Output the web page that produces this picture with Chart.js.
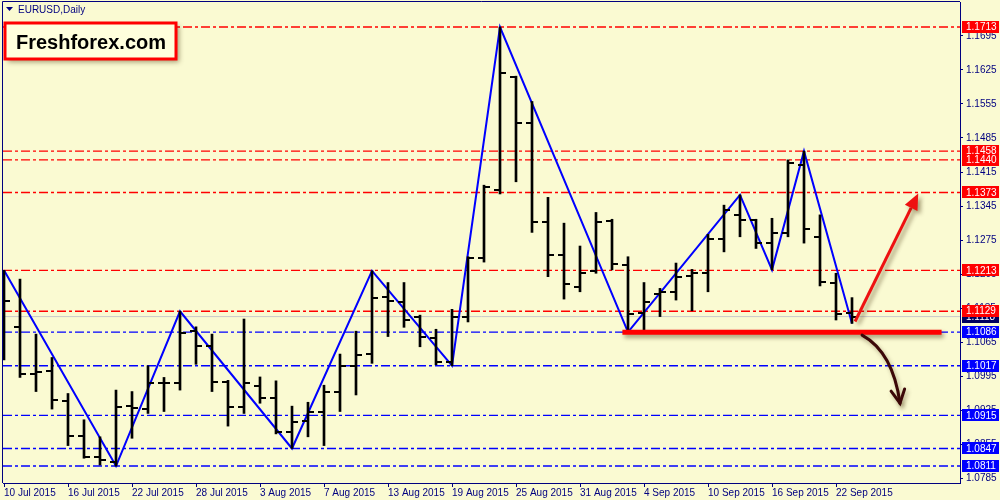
<!DOCTYPE html>
<html>
<head>
<meta charset="utf-8">
<title>EURUSD Daily</title>
<script src="https://cdn.jsdelivr.net/npm/chart.js@4.4.1/dist/chart.umd.min.js"></script>
<style>
  html, body { margin: 0; padding: 0; background: #fafad2; }
  #wrap { width: 1000px; height: 500px; }
</style>
</head>
<body>
<div id="wrap"><canvas id="chart" width="1000" height="500"></canvas></div>
<script>
// tick labels on the time axis, one every 4 bars
const dateLabels = ['10 Jul 2015', '16 Jul 2015', '22 Jul 2015', '28 Jul 2015', '3 Aug 2015', '7 Aug 2015',
  '13 Aug 2015', '19 Aug 2015', '25 Aug 2015', '31 Aug 2015', '4 Sep 2015', '10 Sep 2015', '16 Sep 2015', '22 Sep 2015'];
const labelEvery = 4;

// daily OHLC, 10 Jul .. 23 Sep 2015
const opens = [1.1173, 1.1097, 1.1000, 1.1007, 1.0945, 1.0873, 1.0830, 1.0820, 1.0935, 1.0928,
  1.0982, 1.0981, 1.1089, 1.1058, 1.0984, 1.0933, 1.0975, 1.0950, 1.0881, 1.0904,
  1.0923, 1.0964, 1.1017, 1.1041, 1.1158, 1.1149, 1.1118, 1.1075, 1.1025, 1.1118,
  1.1238, 1.1378, 1.1610, 1.1516, 1.1313, 1.1245, 1.1179, 1.1212, 1.1315, 1.1224,
  1.1125, 1.1164, 1.1169, 1.1201, 1.1208, 1.1277, 1.1327, 1.1316, 1.1269, 1.1290,
  1.1430, 1.1282, 1.1188, 1.1125];
const highs = [1.1213, 1.1195, 1.1082, 1.1034, 1.0960, 1.0906, 1.0871, 1.0967, 1.0964, 1.1017,
  1.0993, 1.1129, 1.1097, 1.1082, 1.0987, 1.1113, 1.0994, 1.0986, 1.0934, 1.0942,
  1.0977, 1.1041, 1.1088, 1.1212, 1.1188, 1.1188, 1.1121, 1.1092, 1.1133, 1.1241,
  1.1388, 1.1713, 1.1612, 1.1560, 1.1363, 1.1310, 1.1263, 1.1332, 1.1318, 1.1241,
  1.1188, 1.1176, 1.1228, 1.1215, 1.1287, 1.1347, 1.1368, 1.1318, 1.1320, 1.1440,
  1.1458, 1.1327, 1.1207, 1.1157];
const lows = [1.1029, 1.0993, 1.0964, 1.0928, 1.0853, 1.0827, 1.0813, 1.0811, 1.0868, 1.0919,
  1.0923, 1.0967, 1.1020, 1.0964, 1.0893, 1.0919, 1.0940, 1.0877, 1.0847, 1.0871,
  1.0853, 1.0923, 1.0957, 1.1022, 1.1077, 1.1096, 1.1056, 1.1019, 1.1017, 1.1107,
  1.1230, 1.1370, 1.1395, 1.1291, 1.1200, 1.1154, 1.1169, 1.1207, 1.1214, 1.1086,
  1.1090, 1.1118, 1.1152, 1.1130, 1.1169, 1.1251, 1.1282, 1.1258, 1.1214, 1.1282,
  1.1269, 1.1181, 1.1111, 1.1104];
const closes = [1.1151, 1.1000, 1.1005, 1.0947, 1.0873, 1.0830, 1.0823, 1.0933, 1.0930, 1.0982,
  1.0982, 1.1085, 1.1058, 1.0984, 1.0933, 1.0982, 1.0950, 1.0881, 1.0902, 1.0923,
  1.0964, 1.1017, 1.1039, 1.1157, 1.1150, 1.1111, 1.1077, 1.1025, 1.1118, 1.1238,
  1.1385, 1.1618, 1.1516, 1.1313, 1.1245, 1.1185, 1.1207, 1.1313, 1.1226, 1.1123,
  1.1149, 1.1169, 1.1200, 1.1207, 1.1277, 1.1336, 1.1316, 1.1269, 1.1290, 1.1434,
  1.1297, 1.1190, 1.1123, 1.1118];

// zigzag turning bars, starting on a high and alternating
const zigzagBars = [0, 7, 11, 18, 23, 28, 31, 39, 46, 48, 50, 53];

// horizontal levels
const redLevels = [1.1713, 1.1458, 1.1440, 1.1373, 1.1213, 1.1129];
const blueLevels = [1.1086, 1.1017, 1.0915, 1.0847, 1.0811];
const bidPrice = 1.1118;

// price axis ticks
const yTicks = [1.0785, 1.0855, 1.0925, 1.0995, 1.1065, 1.1135, 1.1205, 1.1275, 1.1345, 1.1415, 1.1485, 1.1555, 1.1625, 1.1695];

// drawings (bar index, price)
const supportLine = [[38.65, 1.1086], [58.6, 1.1086]];
const upArrow = [[53.19, 1.1108], [57.14, 1.1371]];
const downArrow = [[53.63, 1.1080], [55.56, 1.1045], [56.0, 1.0940]];

const bgColor = '#fafad2';
const navy = '#000080';
const axisFont = { family: "'Liberation Sans', Arial, sans-serif", size: 10 };

// little canvases for the open (left) and close (right) ticks
function tickImage(side) {
  const c = document.createElement('canvas');
  c.width = 12;
  c.height = 2;
  const g = c.getContext('2d');
  g.fillStyle = '#000';
  g.fillRect(side === 'left' ? 0 : 6, 0, 6, 2);
  return c;
}

const xMin = -0.0625, xMax = 59.75;

function levelSet(levels, color) {
  return levels.map(v => ({
    type: 'line',
    data: [{ x: xMin, y: v }, { x: xMax, y: v }],
    borderColor: color,
    borderWidth: 1.4,
    borderDash: [9, 3, 3, 3],
    pointRadius: 0,
    order: 20
  }));
}

const datasets = [
  {
    type: 'bar',
    data: highs.map((h, i) => ({ x: i, y: [lows[i], h] })),
    backgroundColor: '#000',
    borderWidth: 0,
    barThickness: 2,
    grouped: false,
    order: 2
  },
  {
    type: 'line',
    data: opens.map((v, i) => ({ x: i, y: v })),
    showLine: false,
    pointStyle: tickImage('left'),
    pointRadius: 3,
    order: 2
  },
  {
    type: 'line',
    data: closes.map((v, i) => ({ x: i, y: v })),
    showLine: false,
    pointStyle: tickImage('right'),
    pointRadius: 3,
    order: 2
  },
  {
    type: 'line',
    data: zigzagBars.map((b, k) => ({ x: b, y: k % 2 === 0 ? highs[b] : lows[b] })),
    borderColor: '#0000ff',
    borderWidth: 2,
    pointRadius: 0,
    tension: 0,
    order: 5
  },
  {
    type: 'line',
    data: supportLine.map(p => ({ x: p[0], y: p[1] })),
    borderColor: '#ff0000',
    borderWidth: 5,
    pointRadius: 0,
    shadow: true,
    order: 1
  },
  {
    type: 'line',
    data: [{ x: xMin, y: bidPrice }, { x: xMax, y: bidPrice }],
    borderColor: '#c8c8c8',
    borderWidth: 1,
    pointRadius: 0,
    order: 21
  },
  ...levelSet(redLevels, '#ff0000'),
  ...levelSet(blueLevels, '#0000ff')
];

const overlay = {
  id: 'overlay',
  beforeDraw(chart) {
    const ctx = chart.ctx;
    ctx.save();
    ctx.fillStyle = bgColor;
    ctx.fillRect(0, 0, chart.width, chart.height);
    ctx.restore();
  },
  beforeDatasetDraw(chart, args) {
    if (chart.data.datasets[args.index].shadow) {
      const ctx = chart.ctx;
      ctx.save();
      ctx.shadowColor = 'rgba(60,40,0,0.45)';
      ctx.shadowBlur = 4;
      ctx.shadowOffsetX = 2;
      ctx.shadowOffsetY = 3;
    }
  },
  afterDatasetDraw(chart, args) {
    if (chart.data.datasets[args.index].shadow) chart.ctx.restore();
  },
  afterDatasetsDraw(chart) {
    const ctx = chart.ctx;
    const xs = chart.scales.x, ys = chart.scales.y;
    const px = p => [xs.getPixelForValue(p[0]), ys.getPixelForValue(p[1])];

    // red arrow up
    const [a0, a1] = upArrow.map(px);
    const ang = Math.atan2(a1[1] - a0[1], a1[0] - a0[0]);
    const headLen = 16, headW = 7;
    const bx = a1[0] - headLen * Math.cos(ang), by = a1[1] - headLen * Math.sin(ang);
    ctx.save();
    ctx.shadowColor = 'rgba(60,40,0,0.45)';
    ctx.shadowBlur = 4;
    ctx.shadowOffsetX = 3;
    ctx.shadowOffsetY = 3;
    ctx.strokeStyle = '#ee1111';
    ctx.fillStyle = '#ee1111';
    ctx.lineWidth = 3;
    ctx.beginPath();
    ctx.moveTo(a0[0], a0[1]);
    ctx.lineTo(bx, by);
    ctx.stroke();
    ctx.beginPath();
    ctx.moveTo(a1[0], a1[1]);
    ctx.lineTo(bx + headW * Math.sin(ang), by - headW * Math.cos(ang));
    ctx.lineTo(bx - headW * Math.sin(ang), by + headW * Math.cos(ang));
    ctx.closePath();
    ctx.fill();
    ctx.restore();

    // brown curved arrow down
    const [d0, dc, d1] = downArrow.map(px);
    ctx.save();
    ctx.shadowColor = 'rgba(60,40,0,0.35)';
    ctx.shadowBlur = 4;
    ctx.shadowOffsetX = 2;
    ctx.shadowOffsetY = 3;
    ctx.strokeStyle = '#3c0808';
    ctx.lineWidth = 3;
    ctx.lineCap = 'round';
    ctx.beginPath();
    ctx.moveTo(d0[0], d0[1]);
    ctx.quadraticCurveTo(dc[0], dc[1], d1[0], d1[1]);
    ctx.stroke();
    const dang = Math.atan2(d1[1] - dc[1], d1[0] - dc[0]);
    ctx.lineWidth = 3;
    ctx.beginPath();
    ctx.moveTo(d1[0] - 15 * Math.cos(dang - 0.5), d1[1] - 15 * Math.sin(dang - 0.5));
    ctx.lineTo(d1[0], d1[1]);
    ctx.lineTo(d1[0] - 15 * Math.cos(dang + 0.45), d1[1] - 15 * Math.sin(dang + 0.45));
    ctx.stroke();
    ctx.restore();
  },
  afterDraw(chart) {
    const ctx = chart.ctx;
    const area = chart.chartArea;
    const ys = chart.scales.y;

    // frame top + left
    ctx.save();
    ctx.strokeStyle = navy;
    ctx.lineWidth = 1;
    ctx.beginPath();
    ctx.moveTo(area.left - 0.5, area.bottom);
    ctx.lineTo(area.left - 0.5, area.top - 0.5);
    ctx.lineTo(area.right, area.top - 0.5);
    ctx.stroke();
    ctx.restore();

    // price labels on the right
    const boxX = area.right + 2, boxW = chart.width - boxX - 1;
    const tag = (v, color) => {
      const y = ys.getPixelForValue(v);
      ctx.fillStyle = color;
      ctx.fillRect(boxX, Math.round(y) - 6, boxW, 12);
      ctx.fillStyle = '#fff';
      ctx.fillText(v.toFixed(4), boxX + 4, y + 0.5);
    };
    ctx.save();
    ctx.font = `${axisFont.size}px ${axisFont.family}`;
    ctx.textBaseline = 'middle';
    ctx.textAlign = 'left';
    tag(bidPrice, '#000060');
    blueLevels.forEach(v => tag(v, '#0000ff'));
    redLevels.forEach(v => tag(v, '#ff0000'));
    ctx.restore();

    // symbol caption
    ctx.save();
    ctx.fillStyle = navy;
    ctx.beginPath();
    ctx.moveTo(area.left + 3, area.top + 5);
    ctx.lineTo(area.left + 10, area.top + 5);
    ctx.lineTo(area.left + 6.5, area.top + 9);
    ctx.closePath();
    ctx.fill();
    ctx.font = `${axisFont.size}px ${axisFont.family}`;
    ctx.textBaseline = 'middle';
    ctx.fillText('EURUSD,Daily', area.left + 15, area.top + 8);
    ctx.restore();

    // Freshforex badge
    ctx.save();
    ctx.shadowColor = 'rgba(60,40,0,0.45)';
    ctx.shadowBlur = 5;
    ctx.shadowOffsetX = 3;
    ctx.shadowOffsetY = 3;
    ctx.fillStyle = '#ffffdc';
    ctx.fillRect(5, 23, 171, 36);
    ctx.restore();
    ctx.save();
    ctx.strokeStyle = '#ff0000';
    ctx.lineWidth = 3;
    ctx.strokeRect(5, 23, 171, 36);
    ctx.fillStyle = '#000';
    ctx.font = "bold 20px 'Liberation Sans', Arial, sans-serif";
    ctx.textBaseline = 'alphabetic';
    ctx.fillText('Freshforex.com', 16, 49);
    ctx.restore();
  }
};

new Chart(document.getElementById('chart'), {
  type: 'line',
  data: { datasets },
  options: {
    responsive: false,
    devicePixelRatio: 1,
    animation: false,
    events: [],
    layout: { padding: { left: 3, top: 2, right: 0, bottom: 0 }, autoPadding: false },
    plugins: { legend: { display: false }, tooltip: { enabled: false } },
    scales: {
      x: {
        type: 'linear',
        position: 'bottom',
        min: xMin,
        max: xMax,
        offset: false,
        afterFit: s => { s.height = 17; s.paddingLeft = 0; s.paddingRight = 0; },
        afterBuildTicks: s => { s.ticks = dateLabels.map((_, k) => ({ value: k * labelEvery })); },
        ticks: {
          callback: v => dateLabels[v / labelEvery],
          autoSkip: false,
          maxRotation: 0,
          align: 'start',
          color: navy,
          font: axisFont,
          padding: 0
        },
        grid: { offset: false, drawOnChartArea: false, tickLength: 4, color: navy },
        border: { color: navy }
      },
      y: {
        type: 'linear',
        position: 'right',
        min: 1.07761,
        max: 1.17644,
        afterFit: s => { s.width = 40; s.paddingTop = 0; s.paddingBottom = 0; },
        afterBuildTicks: s => { s.ticks = yTicks.map(v => ({ value: v })); },
        ticks: {
          callback: v => v.toFixed(4),
          color: navy,
          font: axisFont,
          padding: 3
        },
        grid: { drawOnChartArea: false, tickLength: 3, color: navy },
        border: { color: navy }
      }
    }
  },
  plugins: [overlay]
});
</script>
</body>
</html>
